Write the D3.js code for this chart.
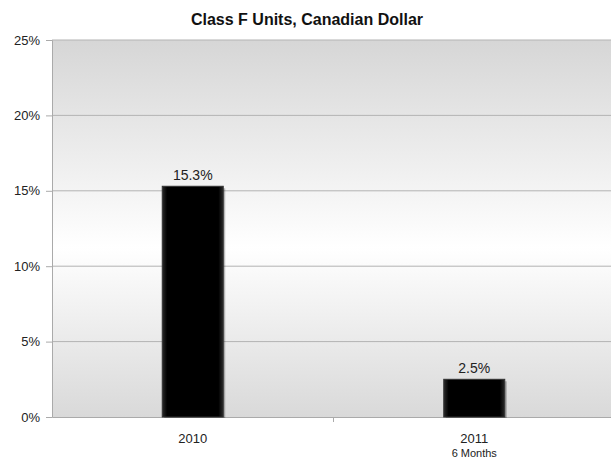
<!DOCTYPE html>
<html>
<head>
<meta charset="utf-8">
<script src="https://cdn.jsdelivr.net/npm/d3@7"></script>
<style>
  body { margin: 0; background: #fff; }
  text { font-family: "Liberation Sans", Arial, sans-serif; }
</style>
</head>
<body>
<script>
// chart data
var categories = ["2010", "2011"];
var subLabels = ["", "6 Months"];
var values = [15.3, 2.5];
var yTicks = [0, 5, 10, 15, 20, 25];

var width = 611, height = 462;
var plotLeft = 52, plotRight = 615, plotTop = 40, plotBottom = 417;

var svg = d3.select("body").append("svg")
    .attr("width", width)
    .attr("height", height);

var defs = svg.append("defs");
var bg = defs.append("linearGradient")
    .attr("id", "bg")
    .attr("x1", 0).attr("y1", 0).attr("x2", 0).attr("y2", 1);
bg.append("stop").attr("offset", "0%").attr("stop-color", "#d6d6d6");
bg.append("stop").attr("offset", "55%").attr("stop-color", "#ffffff");
bg.append("stop").attr("offset", "100%").attr("stop-color", "#d9d9d9");

var barGrad = defs.append("linearGradient")
    .attr("id", "bar")
    .attr("x1", 0).attr("y1", 0).attr("x2", 1).attr("y2", 0);
barGrad.append("stop").attr("offset", "0%").attr("stop-color", "#2a2a2a");
barGrad.append("stop").attr("offset", "8%").attr("stop-color", "#000");
barGrad.append("stop").attr("offset", "92%").attr("stop-color", "#000");
barGrad.append("stop").attr("offset", "100%").attr("stop-color", "#2a2a2a");

var x = d3.scaleBand()
    .domain(categories)
    .range([plotLeft, plotRight]);

var y = d3.scaleLinear()
    .domain([0, 25])
    .range([plotBottom, plotTop]);

// plot area
svg.append("rect")
    .attr("x", plotLeft).attr("y", plotTop)
    .attr("width", plotRight - plotLeft).attr("height", plotBottom - plotTop)
    .attr("fill", "url(#bg)");

// gridlines
svg.append("g")
    .selectAll("line")
    .data(yTicks.slice(1))
    .join("line")
    .attr("x1", plotLeft).attr("x2", plotRight)
    .attr("y1", d => y(d)).attr("y2", d => y(d))
    .attr("stroke", "#b3b3b3")
    .attr("stroke-width", 1);

// y axis
var yAxis = svg.append("g")
    .attr("transform", "translate(" + plotLeft + ",0)")
    .call(d3.axisLeft(y).tickValues(yTicks).tickFormat(d => d + "%").tickSize(6).tickPadding(6));
yAxis.select(".domain").attr("stroke", "#aaa");
yAxis.selectAll(".tick line").attr("stroke", "#aaa");
yAxis.selectAll(".tick text")
    .attr("font-size", 13)
    .attr("fill", "#222")
    .style("font-family", "'Liberation Sans', Arial, sans-serif");

// x axis
var xAxis = svg.append("g")
    .attr("transform", "translate(0," + plotBottom + ")")
    .call(d3.axisBottom(x).tickSize(0).tickFormat(""));
xAxis.select(".domain").attr("stroke", "#aaa");

// separators between categories
svg.append("g")
    .selectAll("line")
    .data(categories.slice(1))
    .join("line")
    .attr("x1", d => x(d)).attr("x2", d => x(d))
    .attr("y1", plotBottom).attr("y2", plotBottom + 5)
    .attr("stroke", "#aaa");

// bar shadows
var bw = 61;
svg.append("g")
    .selectAll("rect")
    .data(values)
    .join("rect")
    .attr("x", (d, i) => x(categories[i]) + x.bandwidth() / 2 - bw / 2 + 2)
    .attr("y", d => y(d) + 2)
    .attr("width", bw)
    .attr("height", d => plotBottom - y(d) - 1)
    .attr("fill", "#000")
    .attr("opacity", 0.25);

// bars
svg.append("g")
    .selectAll("rect")
    .data(values)
    .join("rect")
    .attr("x", (d, i) => x(categories[i]) + x.bandwidth() / 2 - bw / 2)
    .attr("y", d => y(d))
    .attr("width", bw)
    .attr("height", d => plotBottom - y(d))
    .attr("fill", "url(#bar)")
    .attr("stroke", "#333")
    .attr("stroke-width", 1);

// value labels
svg.append("g")
    .selectAll("text")
    .data(values)
    .join("text")
    .attr("x", (d, i) => x(categories[i]) + x.bandwidth() / 2)
    .attr("y", d => y(d) - 6)
    .attr("text-anchor", "middle")
    .attr("font-size", 14)
    .attr("fill", "#222")
    .text(d => d.toFixed(1) + "%");

// category labels
svg.append("g")
    .selectAll("text")
    .data(categories)
    .join("text")
    .attr("x", d => x(d) + x.bandwidth() / 2)
    .attr("y", 443)
    .attr("text-anchor", "middle")
    .attr("font-size", 13)
    .attr("fill", "#222")
    .text(d => d);

svg.append("g")
    .selectAll("text")
    .data(subLabels)
    .join("text")
    .attr("x", (d, i) => x(categories[i]) + x.bandwidth() / 2)
    .attr("y", 457)
    .attr("text-anchor", "middle")
    .attr("font-size", 11)
    .attr("fill", "#222")
    .text(d => d);

// title
svg.append("text")
    .attr("x", 307)
    .attr("y", 25)
    .attr("text-anchor", "middle")
    .attr("font-size", 16)
    .attr("font-weight", "bold")
    .attr("fill", "#111")
    .text("Class F Units, Canadian Dollar");
</script>
</body>
</html>
